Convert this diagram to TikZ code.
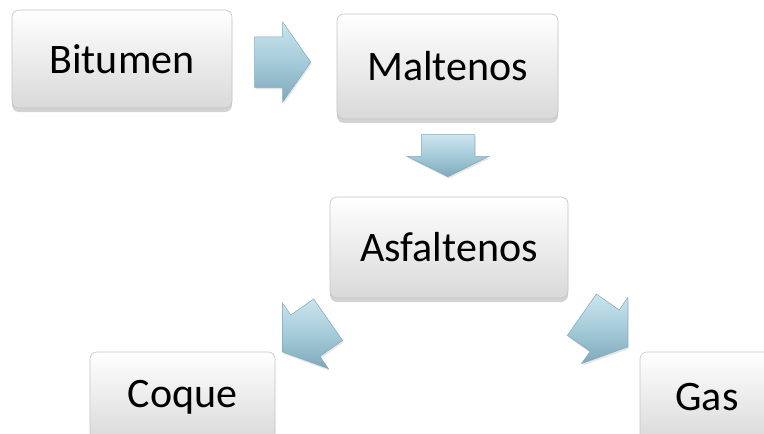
\documentclass[tikz,border=0pt]{standalone}
\usepackage{fontspec}
\setmainfont{Carlito}
\usepackage{xcolor}
\usepackage{tikz}
\usetikzlibrary{shapes, shapes.arrows, shadows, positioning}
\definecolor{boxtop}{HTML}{FFFFFF}
\definecolor{boxbottom}{HTML}{D9D9D9}
\definecolor{boxline}{HTML}{C4C4C4}
\definecolor{arrowlight}{HTML}{CBE5EE}
\definecolor{arrowmid}{HTML}{A5CBD9}
\definecolor{arrowdark}{HTML}{7EA8BA}
\tikzset{
    boxnode/.style = {draw=boxline, line width=0.6pt, rectangle, rounded corners=7pt,
      top color=boxtop, bottom color=boxbottom, inner sep=0pt, node distance=0em,
      minimum height=98pt, font=\fontsize{42}{50}\selectfont,
      drop shadow={shadow xshift=0pt, shadow yshift=-4pt, opacity=0.35}},
    arrownode/.style = {draw=arrowdark, line width=0.5pt, single arrow, inner xsep=0pt,
      inner ysep=25pt, node distance=0em, minimum height=56pt,
      single arrow head extend=15pt, single arrow tip angle=110,
      top color=arrowlight, bottom color=arrowdark, middle color=arrowmid,
      drop shadow={shadow xshift=1pt, shadow yshift=-2pt, opacity=0.2}}
}

\begin{document}
\begin{tikzpicture}
    \clip (0pt,0pt) rectangle (764pt,-434pt);
    \useasboundingbox (0pt,0pt) rectangle (764pt,-434pt);

    \node [name=bitumen, boxnode, minimum width=220pt] at (122pt,-59pt) {Bitumen};
    \node [name=maltenos, boxnode, minimum width=221pt, minimum height=105pt,
        right of = bitumen, xshift=325.5pt, yshift=-7.5pt] {Maltenos};
    \node [name=asfaltenos, boxnode, minimum width=238pt, minimum height=101pt,
        right of = bitumen, xshift=327pt, yshift=-188.5pt] {Asfaltenos};
    \node [name=coque, boxnode, minimum width=185pt, minimum height=90pt,
        right of = bitumen, xshift=60.5pt, yshift=-338pt] {Coque};
    \node [name=gas, boxnode, minimum width=134pt, minimum height=90pt,
        right of = bitumen, xshift=585pt, yshift=-338pt] {Gas};

    % arrows placed by their tips
    \node [name=arrowright, arrownode,
        right of = bitumen, anchor=tip, xshift=189pt, yshift=-3pt] {};
    \node [name=arrowdown, arrownode, minimum height=42pt, inner ysep=26.5pt,
        single arrow head extend=14pt, single arrow tip angle=127,
        right of = bitumen, anchor=tip, xshift=326pt, yshift=-118pt, rotate=-90] {};
    \node [name=arrowcoque, arrownode,
        right of = bitumen, anchor=tip, xshift=160pt, yshift=-293pt, rotate=215] {};
    \node [name=arrowgas, arrownode,
        right of = bitumen, anchor=tip, xshift=506pt, yshift=-288pt, rotate=-35] {};
\end{tikzpicture}
\end{document}
